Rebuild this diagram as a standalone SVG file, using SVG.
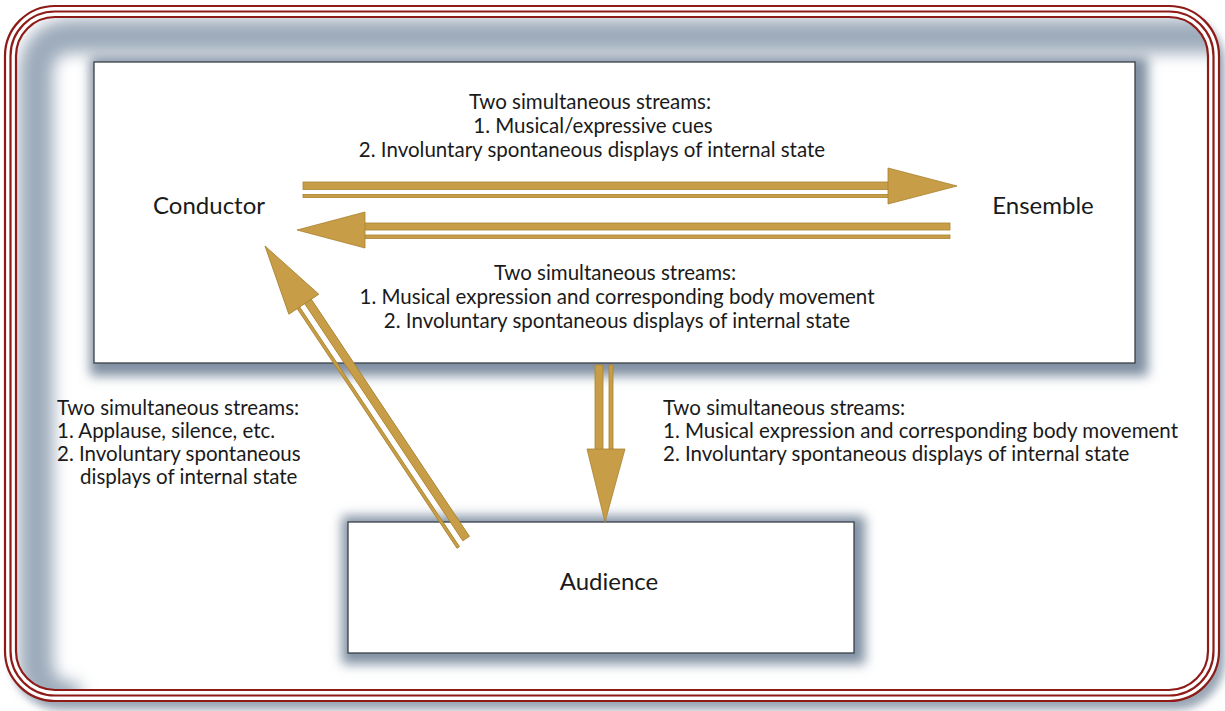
<svg xmlns="http://www.w3.org/2000/svg" width="1225" height="711" viewBox="0 0 1225 711">
<defs>
<style>
.frame{fill:none;stroke:#8e1b17;stroke-width:2.2}
.box{fill:#ffffff;stroke:#3a3f47;stroke-width:1.3}
.shadow{fill:#7f8fa2;filter:url(#blur6)}
.gold{fill:#c89d48;stroke:#a8822e;stroke-width:0.8}
.t{font-family:Lato,"Open Sans",sans-serif;font-size:20.5px;fill:#1a1a1a}
.lbl{font-family:Lato,"Open Sans",sans-serif;font-size:24px;fill:#1a1a1a}
</style>
<filter id="blur6" x="-20%" y="-20%" width="140%" height="140%"><feGaussianBlur stdDeviation="6"/></filter>
<filter id="blur8" filterUnits="userSpaceOnUse" x="-100" y="-100" width="1500" height="1000"><feGaussianBlur stdDeviation="8"/></filter>
<filter id="blur4" x="-10%" y="-10%" width="120%" height="120%"><feGaussianBlur stdDeviation="4"/></filter>
<clipPath id="inner"><rect x="16" y="17" width="1192" height="673" rx="39"/></clipPath>
</defs>
<rect width="1225" height="711" fill="#ffffff"/>
<g id="frame">
<rect x="11" y="14" width="1214" height="696" rx="50" fill="#9aa6b5" filter="url(#blur4)"/>
<rect x="5" y="6" width="1214" height="695" rx="50" fill="#ffffff"/>
<g clip-path="url(#inner)">
<path d="M 1250,36 L 75,36 Q 36,36 36,75 L 36,660 Q 36,700 80,700" fill="none" stroke="#9dabbb" stroke-width="34" filter="url(#blur8)"/>
</g>
<rect class="frame" x="5" y="6" width="1214" height="695" rx="50"/>
<rect class="frame" x="10.5" y="11.5" width="1203" height="684" rx="44.5"/>
<rect class="frame" x="16" y="17" width="1192" height="673" rx="39"/>
</g>
<g id="top-box">
<rect class="shadow" x="90" y="57" width="1058" height="319"/>
<rect class="box" x="94" y="62" width="1041" height="301"/>
</g>
<g id="audience">
<rect class="shadow" x="342" y="516" width="523" height="148"/>
<rect class="box" x="348" y="522" width="506" height="131"/>
<text class="lbl" x="609" y="590" text-anchor="middle">Audience</text>
</g>
<g id="conductor"><text class="lbl" x="209" y="214" text-anchor="middle">Conductor</text></g>
<g id="ensemble"><text class="lbl" x="1043" y="214" text-anchor="middle">Ensemble</text></g>
<g id="connectors">
<g id="c-to-e">
<rect class="gold" x="303" y="182" width="586" height="7.5"/>
<rect class="gold" x="303" y="194.5" width="586" height="3"/>
<polygon class="gold" points="888,168 957,186 888,204"/>
</g>
<g id="e-to-c">
<rect class="gold" x="364" y="223" width="586" height="7"/>
<rect class="gold" x="364" y="235" width="586" height="3.5"/>
<polygon class="gold" points="297,230 365,212 365,248"/>
</g>
<g id="to-audience">
<rect class="gold" x="595" y="365" width="8" height="85"/>
<rect class="gold" x="609" y="365" width="4" height="85"/>
<polygon class="gold" points="587,449 625,449 605,522"/>
</g>
<g id="audience-to-c" transform="translate(265,246) rotate(-33.7)">
<rect class="gold" x="1" y="68" width="8" height="287"/>
<rect class="gold" x="-8" y="68" width="3" height="290"/>
<polygon class="gold" points="0,0 -18,70 18,70"/>
</g>
</g>
<g id="labels">
<text class="t" text-anchor="middle"><tspan x="590" y="109">Two simultaneous streams:</tspan><tspan x="593" y="133">1. Musical/expressive cues</tspan><tspan x="592" y="157">2. Involuntary spontaneous displays of internal state</tspan></text>
<text class="t" text-anchor="middle"><tspan x="615" y="280">Two simultaneous streams:</tspan><tspan x="617" y="304">1. Musical expression and corresponding body movement</tspan><tspan x="617" y="328">2. Involuntary spontaneous displays of internal state</tspan></text>
<text class="t"><tspan x="57" y="415">Two simultaneous streams:</tspan><tspan x="57" y="438">1. Applause, silence, etc.</tspan><tspan x="57" y="461">2. Involuntary spontaneous</tspan><tspan x="80" y="484">displays of internal state</tspan></text>
<text class="t"><tspan x="663" y="415">Two simultaneous streams:</tspan><tspan x="663" y="438">1. Musical expression and corresponding body movement</tspan><tspan x="663" y="461">2. Involuntary spontaneous displays of internal state</tspan></text>
</g>
</svg>
